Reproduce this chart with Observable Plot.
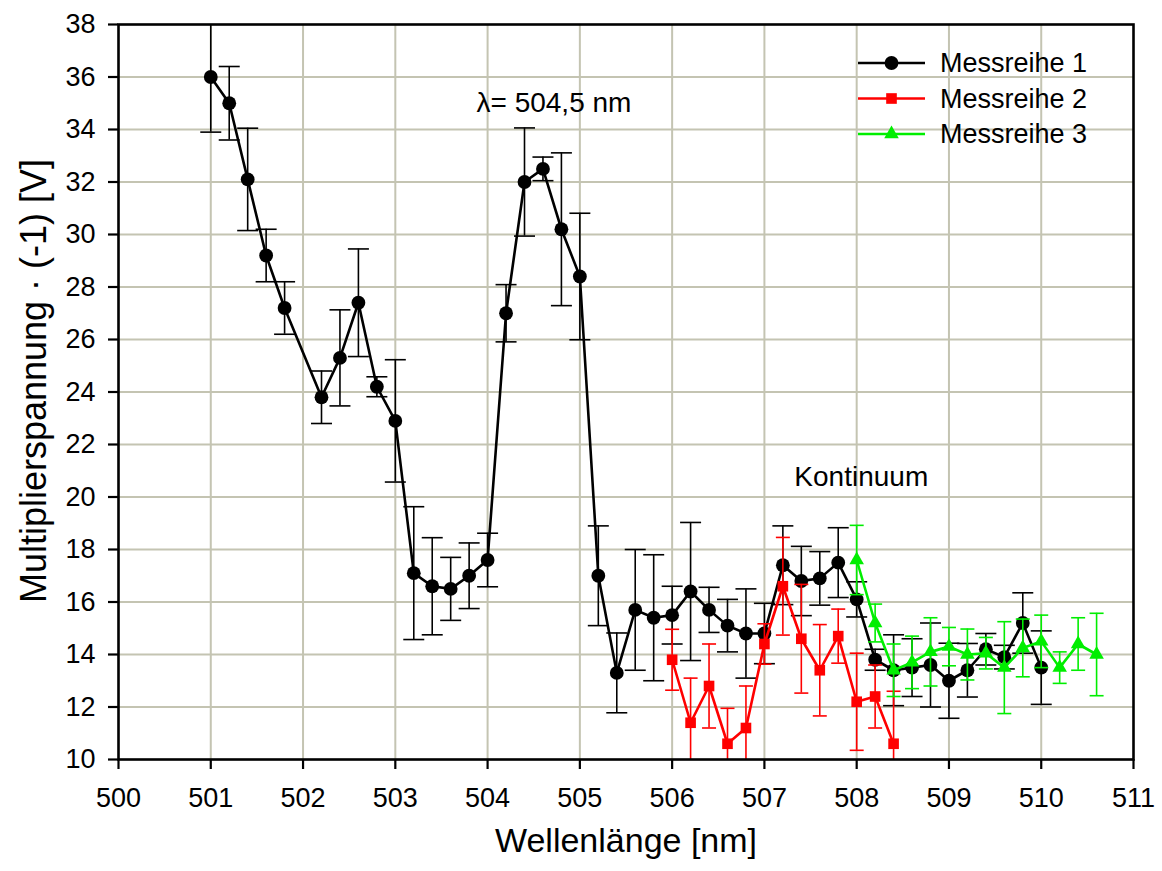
<!DOCTYPE html>
<html>
<head>
<meta charset="utf-8">
<script src="https://cdn.jsdelivr.net/npm/d3@7"></script>
<script src="https://cdn.jsdelivr.net/npm/@observablehq/plot@0.6"></script>
<style>
  body { margin: 0; background: #fff; }
  #chart { position: relative; width: 1162px; height: 871px; }
  #legend { position: absolute; left: 0; top: 0; pointer-events: none; }
</style>
</head>
<body>
<div id="chart"></div>
<script>
// Messreihe 1: wavelength [nm], voltage [V], error [V]
const wl1 = [501.0, 501.2, 501.4, 501.6, 501.8, 502.2, 502.4, 502.6, 502.8, 503.0,
             503.2, 503.4, 503.6, 503.8, 504.0, 504.2, 504.4, 504.6, 504.8, 505.0,
             505.2, 505.4, 505.6, 505.8, 506.0, 506.2, 506.4, 506.6, 506.8, 507.0,
             507.2, 507.4, 507.6, 507.8, 508.0, 508.2, 508.4, 508.6, 508.8, 509.0,
             509.2, 509.4, 509.6, 509.8, 510.0];
const u1  = [36.0, 35.0, 32.1, 29.2, 27.2, 23.8, 25.3, 27.4, 24.2, 22.9,
             17.1, 16.6, 16.5, 17.0, 17.6, 27.0, 32.0, 32.5, 30.2, 28.4,
             17.0, 13.3, 15.7, 15.4, 15.5, 16.4, 15.7, 15.1, 14.8, 14.8,
             17.4, 16.8, 16.9, 17.5, 16.1, 13.8, 13.4, 13.5, 13.6, 13.0,
             13.4, 14.2, 13.9, 15.2, 13.5];
const e1  = [2.1, 1.4, 1.95, 1.0, 1.0, 1.0, 1.83, 2.05, 0.38, 2.33,
             2.53, 1.85, 1.2, 1.25, 1.02, 1.09, 2.06, 0.45, 2.91, 2.41,
             1.9, 1.52, 2.3, 2.4, 1.1, 2.63, 0.86, 1.0, 1.7, 1.15,
             1.5, 1.32, 1.02, 1.33, 0.67, 0.4, 1.35, 1.1, 1.6, 1.43,
             1.02, 0.6, 0.45, 1.15, 1.4];

// Messreihe 2
const wl2 = [506.0, 506.2, 506.4, 506.6, 506.8, 507.0, 507.2, 507.4, 507.6, 507.8, 508.0, 508.2, 508.4];
const u2  = [13.8, 11.4, 12.8, 10.6, 11.2, 14.4, 16.6, 14.6, 13.4, 14.7, 12.2, 12.4, 10.6];
const e2  = [1.16, 1.7, 1.6, 1.35, 1.6, 0.77, 1.86, 2.07, 1.74, 1.03, 1.85, 1.2, 2.0];

// Messreihe 3
const wl3 = [508.0, 508.2, 508.4, 508.6, 508.8, 509.0, 509.2, 509.4, 509.6, 509.8, 510.0, 510.2, 510.4, 510.6];
const u3  = [17.6, 15.2, 13.4, 13.7, 14.1, 14.3, 14.0, 14.05, 13.5, 14.25, 14.5, 13.5, 14.4, 14.0];
const e3  = [1.32, 0.72, 1.0, 1.0, 1.3, 0.73, 0.97, 0.6, 1.75, 1.1, 1.0, 0.6, 1.0, 1.57];

const seriesNames = ["Messreihe 1", "Messreihe 2", "Messreihe 3"];
const seriesColors = ["#000000", "#ff0000", "#00ee00"];

const xTicks = d3.range(500, 512, 1);
const yTicks = d3.range(10, 39, 2);

// in-plot annotations
const lineNote = {t: "λ= 504,5 nm", x: 503.88, y: 35.0};
const contNote = {t: "Kontinuum", x: 508.05, y: 20.75};

const FONT = "'Liberation Sans', Arial, Helvetica, sans-serif";

function rows(wl, u, e) {
  return wl.map((x, i) => ({x, y: u[i], lo: u[i] - e[i], hi: u[i] + e[i]}));
}

// horizontal bar used as the error-bar cap
const capSymbol = {
  draw(ctx, size) {
    const r = Math.sqrt(size / Math.PI);
    ctx.moveTo(-r, 0);
    ctx.lineTo(r, 0);
  }
};

function seriesMarks(data, color, symbol, r, cap) {
  return [
    Plot.ruleX(data, {x: "x", y1: "lo", y2: "hi", stroke: color, strokeWidth: 1.6, clip: true}),
    Plot.dot(data, {x: "x", y: "hi", symbol: capSymbol, r: cap, stroke: color, strokeWidth: 1.6, clip: true}),
    Plot.dot(data, {x: "x", y: "lo", symbol: capSymbol, r: cap, stroke: color, strokeWidth: 1.6, clip: true}),
    Plot.line(data, {x: "x", y: "y", stroke: color, strokeWidth: 2.6}),
    Plot.dot(data, {x: "x", y: "y", symbol, r, fill: color, stroke: "none"})
  ];
}

const d1 = rows(wl1, u1, e1);
const d2 = rows(wl2, u2, e2);
const d3s = rows(wl3, u3, e3);

const gridColor = "#c4c4b2";

const chart = Plot.plot({
  width: 1162,
  height: 871,
  marginLeft: 118,
  marginRight: 29,
  marginTop: 24,
  marginBottom: 112,
  style: {fontFamily: FONT, fontSize: "27px", color: "#000", background: "#fff"},
  x: {domain: [500, 511], label: null},
  y: {domain: [10, 38], label: null},
  marks: [
    Plot.gridX({ticks: d3.range(501, 511), stroke: gridColor, strokeOpacity: 1, strokeWidth: 2}),
    Plot.gridY({ticks: d3.range(12, 38, 2), stroke: gridColor, strokeOpacity: 1, strokeWidth: 2}),
    ...seriesMarks(d1, seriesColors[0], "circle", 6.9, 10.5),
    ...seriesMarks(d2, seriesColors[1], "square", 6.0, 7),
    ...seriesMarks(d3s, seriesColors[2], "triangle", 5.4, 7),
    Plot.text([lineNote], {x: "x", y: "y", text: "t", textAnchor: "start", fontSize: 28, fill: "#000"}),
    Plot.text([contNote], {x: "x", y: "y", text: "t", textAnchor: "middle", fontSize: 28, fill: "#000"}),
    Plot.axisX({ticks: xTicks, tickFormat: d => d, tickSize: 10, tickPadding: 18,
                fontSize: 27, strokeWidth: 2.2, label: null}),
    Plot.axisY({ticks: yTicks, tickFormat: d => d, tickSize: 10, tickPadding: 13,
                fontSize: 27, strokeWidth: 2.2, label: null}),
    Plot.frame({stroke: "#000", strokeWidth: 2.6}),
    Plot.text(["Wellenlänge [nm]"], {frameAnchor: "bottom", dy: 92, fontSize: 34, fill: "#000"}),
    Plot.text(["Multiplierspannung · (-1) [V]"], {frameAnchor: "left", textAnchor: "middle", rotate: -90,
                dx: -84, dy: -11, fontSize: 36, fill: "#000"})
  ]
});

const host = document.getElementById("chart");
host.appendChild(chart);

// legend in the upper right corner of the plot area
const legend = d3.select(host).append("svg")
  .attr("id", "legend")
  .attr("width", 1162).attr("height", 871);
const shapes = [d3.symbolCircle, d3.symbolSquare, d3.symbolTriangle];
const sizes = [Math.PI * 6.9 * 6.9, Math.PI * 6.0 * 6.0, Math.PI * 5.4 * 5.4];
seriesNames.forEach((name, i) => {
  const g = legend.append("g").attr("transform", `translate(858, ${63 + i * 35.5})`);
  g.append("line").attr("x1", 0).attr("x2", 67).attr("y1", 0).attr("y2", 0)
    .attr("stroke", seriesColors[i]).attr("stroke-width", 2.6);
  g.append("path").attr("transform", "translate(33.5,0)")
    .attr("d", d3.symbol(shapes[i], sizes[i])()).attr("fill", seriesColors[i]);
  g.append("text").attr("x", 82).attr("y", 0).attr("dy", "0.35em")
    .attr("font-family", FONT).attr("font-size", 27).attr("fill", "#000").text(name);
});
</script>
</body>
</html>
